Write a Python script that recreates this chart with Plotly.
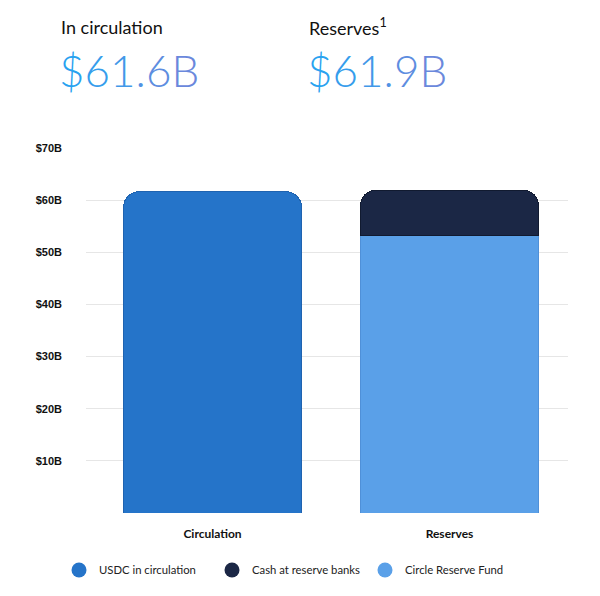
import plotly.graph_objects as go

categories = ["Circulation", "Reserves"]
usdc_circulation = [61.6, None]
cash_reserve_banks = [None, 8.6]
circle_reserve_fund = [None, 53.3]
tick_vals = [0, 10, 20, 30, 40, 50, 60, 70]
tick_text = ["", "$10B", "$20B", "$30B", "$40B", "$50B", "$60B", "$70B"]
header_labels = ["In circulation", "Reserves<sup>1</sup>"]
header_values = ["$61.6B", "$61.9B"]

C_USDC = "#2574c9"
C_CASH = "#1b2745"
C_FUND = "#5aa0e8"
GRAD_START = (40, 162, 240)
GRAD_END = (106, 136, 220)

W, H = 592, 588  # page adds an 8px body margin
PL, PT, PW, PH = 86, 148, 482, 365  # plot area in page pixels


def gradient_text(s):
    n = max(len(s) - 1, 1)
    parts = []
    for k, ch in enumerate(s):
        t = k / n
        r, g, b = (round(a + (c - a) * t) for a, c in zip(GRAD_START, GRAD_END))
        parts.append(f'<span style="color:rgb({r},{g},{b})">{ch}</span>')
    return "".join(parts)


fig = go.Figure()
fig.add_trace(go.Bar(x=categories, y=usdc_circulation, marker=dict(color=C_USDC, line=dict(color="#1f63b0", width=1)),
                     showlegend=False, width=0.75))
fig.add_trace(go.Bar(x=categories, y=circle_reserve_fund, marker=dict(color=C_FUND, line=dict(color="#4f90d8", width=1)),
                     showlegend=False, width=0.75))
fig.add_trace(go.Bar(x=categories, y=cash_reserve_banks, marker=dict(color=C_CASH, line=dict(color="#111a30", width=1)),
                     showlegend=False, width=0.75))

for name, col in [("USDC in circulation", C_USDC), ("Cash at reserve banks", C_CASH), ("Circle Reserve Fund", C_FUND)]:
    fig.add_trace(go.Scatter(x=[None], y=[None], mode="markers", name=name,
                             marker=dict(symbol="circle", size=15, color=col)))

fig.update_layout(
    width=W, height=H,
    barmode="stack",
    barcornerradius=15,
    plot_bgcolor="white", paper_bgcolor="white",
    margin=dict(l=PL - 8, r=W - (PL + PW - 8), t=PT - 8, b=H - (PT + PH - 8), autoexpand=False),
    font=dict(family="Liberation Sans", color="#111111"),
    xaxis=dict(range=[-0.534, 1.5], showgrid=False, showline=False, ticks="", automargin=False,
               ticklabelstandoff=12,
               tickfont=dict(family="Lato", size=12, color="#111111", weight="bold")),
    yaxis=dict(range=[0, 70], tickvals=tick_vals, ticktext=tick_text, showgrid=True, automargin=False,
               gridcolor="#e6e6e6", gridwidth=1, zeroline=False, showline=False,
               tickfont=dict(family="Liberation Sans", size=11, color="#111111", weight="bold"),
               ticklabelstandoff=23),
    legend=dict(orientation="h", x=51 / W, xanchor="left", xref="container",
                y=1 - 562 / H, yanchor="middle", yref="container",
                font=dict(family="Lato", size=11.3, color="#222222"),
                itemwidth=30, entrywidth=108, entrywidthmode="pixels", traceorder="normal"),
)

for i, (lab, val) in enumerate(zip(header_labels, header_values)):
    x0 = 59 + 248 * i
    fig.add_annotation(text=lab, xref="paper", yref="paper", x=(x0 - PL) / PW, y=1 + (PT - 27) / PH,
                       xanchor="left", yanchor="middle", showarrow=False,
                       font=dict(family="Lato", size=18, color="#111111"))
    fig.add_annotation(text=gradient_text(val), xref="paper", yref="paper", x=(x0 - 2 - PL) / PW,
                       y=1 + (PT - 70) / PH,
                       xanchor="left", yanchor="middle", showarrow=False,
                       font=dict(family="Lato", size=44, color="#3a9de9", weight=300))

fig.write_html("out.html")
